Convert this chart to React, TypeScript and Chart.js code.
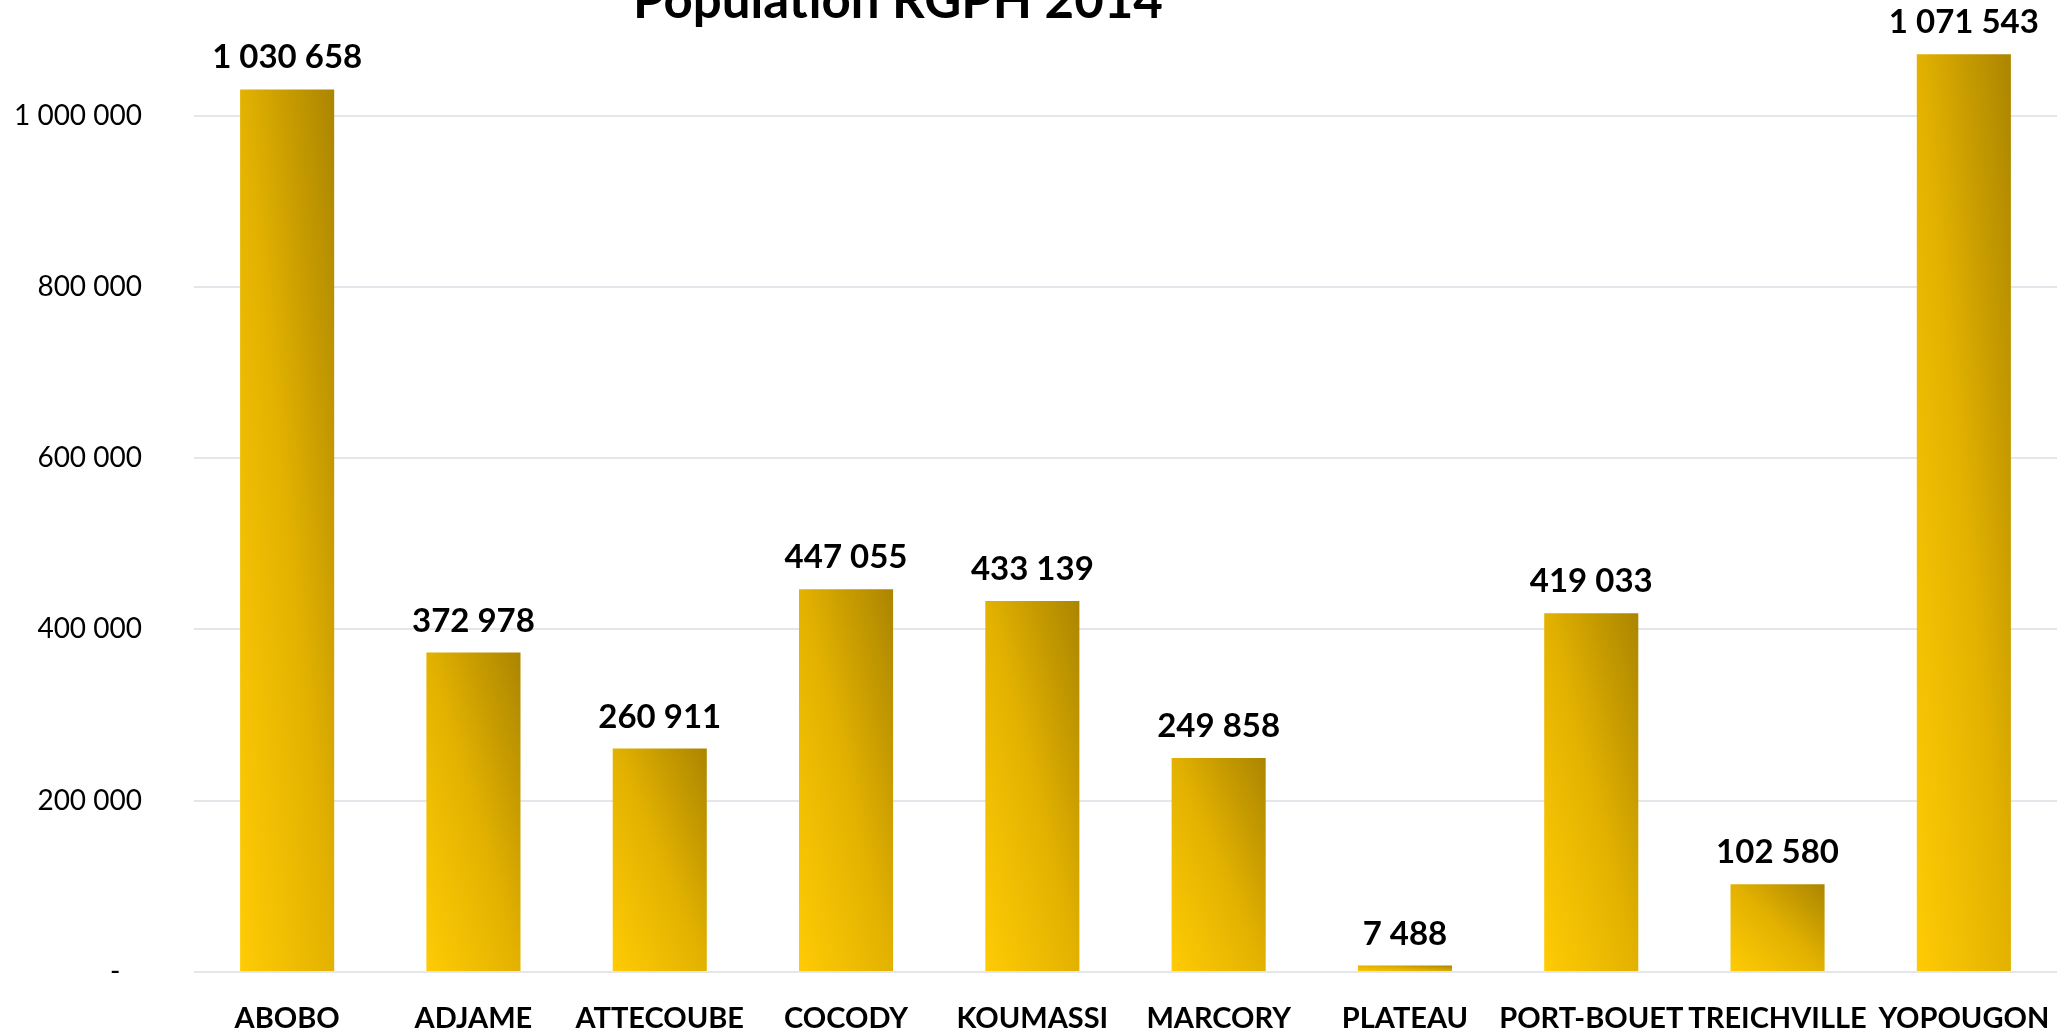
import React, { useEffect, useRef } from 'react';
import { Chart, registerables } from 'chart.js';

Chart.register(...registerables);

const categories = ['ABOBO', 'ADJAME', 'ATTECOUBE', 'COCODY', 'KOUMASSI', 'MARCORY', 'PLATEAU', 'PORT-BOUET', 'TREICHVILLE', 'YOPOUGON'];
const population = [1030658, 372978, 260911, 447055, 433139, 249858, 7488, 419033, 102580, 1071543];
const yTicks = [0, 200000, 400000, 600000, 800000, 1000000];
const titleText = 'Population RGPH 2014';

const FONT = 'Lato, "Open Sans", sans-serif';
const BAR_PCT = 0.505;

const fmt = (v: number) =>
  Math.round(v).toString().replace(/\B(?=(\d{3})+(?!\d))/g, ' ');

const tickFmt = (v: number) => (v === 0 ? '-   ' : fmt(v));

const titlePlugin = {
  id: 'offTitle',
  afterDraw(chart: any) {
    const c = chart.ctx;
    c.save();
    c.font = `bold 51px ${FONT}`;
    c.fillStyle = '#000';
    c.textAlign = 'center';
    c.textBaseline = 'alphabetic';
    c.fillText(titleText, 898, 18);
    c.restore();
  },
};

const valueLabels = {
  id: 'valueLabels',
  afterDatasetsDraw(chart: any) {
    const c = chart.ctx;
    const meta = chart.getDatasetMeta(0);
    c.save();
    c.font = `bold 33px ${FONT}`;
    c.fillStyle = '#000';
    c.textAlign = 'center';
    c.textBaseline = 'alphabetic';
    meta.data.forEach((el: any, i: number) => {
      c.fillText(fmt(population[i]), el.x, el.y - 21);
    });
    c.restore();
  },
};

export default function App() {
  const ref = useRef<HTMLCanvasElement | null>(null);

  useEffect(() => {
    if (!ref.current) return;
    const chart = new Chart(ref.current, {
      type: 'bar',
      data: {
        labels: categories,
        datasets: [
          {
            data: population,
            categoryPercentage: 1,
            barPercentage: BAR_PCT,
            borderWidth: 0,
            backgroundColor: (ctx: any) => {
              const ch = ctx.chart;
              const area = ch.chartArea;
              if (!area || ctx.type !== 'data') return '#e3b200';
              const xs = ch.scales.x;
              const ys = ch.scales.y;
              const cx = xs.getPixelForValue(ctx.dataIndex);
              const w = (xs.width / categories.length) * BAR_PCT;
              const yt = ys.getPixelForValue(ctx.raw);
              const yb = ys.getPixelForValue(0);
              const h = Math.max(1, yb - yt);
              const x0 = cx - w / 2;
              const L2 = w * w + h * h;
              const k = (2 * w * h) / L2;
              const g = ch.ctx.createLinearGradient(x0, yb, x0 + h * k, yb - w * k);
              g.addColorStop(0, '#ffcb05');
              g.addColorStop(0.5, '#e3b200');
              g.addColorStop(1, '#ab8500');
              return g;
            },
          },
        ],
      },
      options: {
        animation: false,
        responsive: true,
        maintainAspectRatio: false,
        layout: { autoPadding: false, padding: { top: 30, right: 10, left: 0, bottom: 0 } },
        plugins: {
          legend: { display: false },
          title: { display: false },
          tooltip: { enabled: false },
        },
        scales: {
          x: {
            grid: { display: false },
            border: { display: false },
            ticks: {
              color: '#000',
              font: { family: FONT, size: 29, weight: 'bold' },
              padding: 21,
              maxRotation: 0,
              autoSkip: false,
            },
            afterFit: (s: any) => {
              s.height = 61;
              s.paddingLeft = 0;
              s.paddingRight = 0;
              s.paddingTop = 0;
              s.paddingBottom = 0;
            },
          },
          y: {
            min: 0,
            max: 1100000,
            grid: { color: '#e3e6ea', lineWidth: 2, drawTicks: false },
            border: { display: false },
            afterBuildTicks: (s: any) => {
              s.ticks = yTicks.map((v) => ({ value: v }));
            },
            ticks: {
              color: '#000',
              font: { family: FONT, size: 28 },
              padding: 52,
              callback: (v: any) => tickFmt(Number(v)),
            },
            afterFit: (s: any) => {
              s.width = 194;
              s.paddingLeft = 0;
              s.paddingRight = 0;
              s.paddingTop = 0;
              s.paddingBottom = 0;
            },
          },
        },
      },
      plugins: [valueLabels, titlePlugin],
    });
    return () => chart.destroy();
  }, []);

  return (
    <div style={{ position: 'fixed', left: 0, top: 0, width: '100vw', height: '100vh', background: '#fff' }}>
      <canvas ref={ref} />
    </div>
  );
}
